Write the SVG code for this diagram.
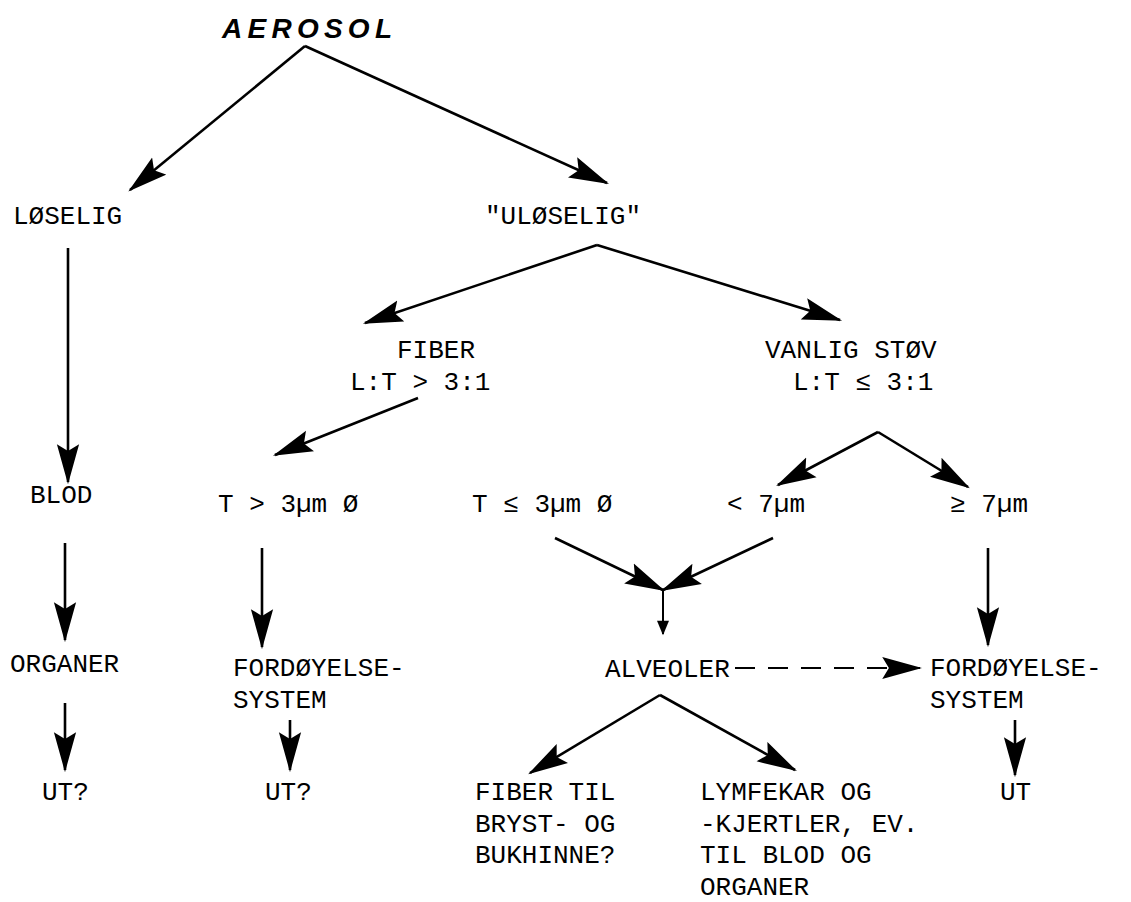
<svg xmlns="http://www.w3.org/2000/svg" width="1131" height="902" viewBox="0 0 1131 902">
<defs>
<marker id="ah" markerUnits="userSpaceOnUse" markerWidth="40" markerHeight="24" viewBox="0 0 36 20" refX="34" refY="10" orient="auto">
<path d="M0,0 L36,10 L0,20 L6,10 Z" fill="#000"/>
</marker>
<marker id="ahs" markerUnits="userSpaceOnUse" markerWidth="16" markerHeight="12" viewBox="0 0 12 10" refX="11" refY="5" orient="auto">
<path d="M0,0 L12,5 L0,10 Z" fill="#000"/>
</marker>
<style>
text{font-family:"Liberation Mono","DejaVu Sans Mono",monospace;font-size:26px;fill:#000}
.t{font-family:"Liberation Sans",Arial,sans-serif;font-weight:bold;font-style:italic;font-size:28px}
.c line{stroke:#000;stroke-width:2.6;marker-end:url(#ah)}
.c line.s{stroke-width:2;marker-end:url(#ahs)}
.c line.d{stroke-dasharray:20,13;stroke-width:2.2}
</style>
</defs>
<rect width="1131" height="902" fill="#fff"/>
<g class="c" id="connectors">
<line x1="305" y1="46" x2="130" y2="190"/>
<line x1="305" y1="46" x2="607" y2="183"/>
<line x1="68" y1="248" x2="68" y2="482"/>
<line x1="65" y1="543" x2="65" y2="640"/>
<line x1="65" y1="703" x2="65" y2="770"/>
<line x1="597" y1="245" x2="365" y2="323"/>
<line x1="597" y1="245" x2="840" y2="320"/>
<line x1="418" y1="398" x2="275" y2="455"/>
<line x1="878" y1="432" x2="778" y2="485"/>
<line x1="878" y1="432" x2="968" y2="487"/>
<line x1="262" y1="548" x2="262" y2="647"/>
<line x1="555" y1="538" x2="663" y2="590"/>
<line x1="773" y1="538" x2="663" y2="590"/>
<line class="s" x1="663" y1="590" x2="663" y2="634"/>
<line x1="988" y1="548" x2="988" y2="645"/>
<line x1="290" y1="720" x2="290" y2="770"/>
<line x1="1015" y1="720" x2="1015" y2="775"/>
<line class="d" x1="735" y1="668" x2="920" y2="668"/>
<line x1="660" y1="695" x2="530" y2="773"/>
<line x1="660" y1="695" x2="795" y2="770"/>
</g>
<g id="aerosol"><text class="t" x="222" y="38" textLength="170" lengthAdjust="spacing">AEROSOL</text></g>
<g id="loselig"><text x="13" y="224">LØSELIG</text></g>
<g id="uloselig"><text x="485" y="224">"ULØSELIG"</text></g>
<g id="blod"><text x="30" y="503">BLOD</text></g>
<g id="organer"><text x="10" y="672">ORGANER</text></g>
<g id="ut1"><text x="42" y="800">UT?</text></g>
<g id="fiber"><text x="397" y="358">FIBER</text><text x="350" y="390">L:T &gt; 3:1</text></g>
<g id="vanlig"><text x="765" y="358">VANLIG STØV</text><text x="793" y="390">L:T ≤ 3:1</text></g>
<g id="tgt"><text x="218" y="512">T &gt; 3µm Ø</text></g>
<g id="tle"><text x="472" y="512">T ≤ 3µm Ø</text></g>
<g id="lt7"><text x="727" y="512">&lt; 7µm</text></g>
<g id="ge7"><text x="950" y="512">≥ 7µm</text></g>
<g id="ford1"><text x="233" y="676">FORDØYELSE-</text><text x="233" y="708">SYSTEM</text></g>
<g id="ut2"><text x="265" y="800">UT?</text></g>
<g id="alveoler"><text x="605" y="677">ALVEOLER</text></g>
<g id="ford2"><text x="930" y="676">FORDØYELSE-</text><text x="930" y="708">SYSTEM</text></g>
<g id="ut3"><text x="1000" y="800">UT</text></g>
<g id="fibertil"><text x="475" y="800">FIBER TIL</text><text x="475" y="832">BRYST- OG</text><text x="475" y="863">BUKHINNE?</text></g>
<g id="lymfe"><text x="700" y="800">LYMFEKAR OG</text><text x="700" y="832">-KJERTLER, EV.</text><text x="700" y="863">TIL BLOD OG</text><text x="700" y="895">ORGANER</text></g>
</svg>
